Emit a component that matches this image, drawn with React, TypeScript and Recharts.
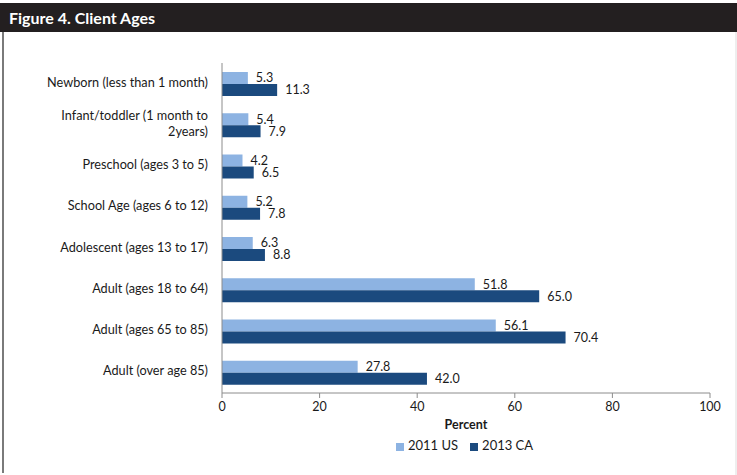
import { BarChart, Bar, XAxis, YAxis, Legend, LabelList } from 'recharts';

const categories = [
  'Newborn (less than 1 month)',
  'Infant/toddler (1 month to 2years)',
  'Preschool (ages 3 to 5)',
  'School Age (ages 6 to 12)',
  'Adolescent (ages 13 to 17)',
  'Adult (ages 18 to 64)',
  'Adult (ages 65 to 85)',
  'Adult (over age 85)',
];
const us2011 = [5.3, 5.4, 4.2, 5.2, 6.3, 51.8, 56.1, 27.8];
const ca2013 = [11.3, 7.9, 6.5, 7.8, 8.8, 65.0, 70.4, 42.0];
const xTicks = [0, 20, 40, 60, 80, 100];

const data = categories.map((name, i) => ({ name, us: us2011[i], ca: ca2013[i] }));

const FONT = 'Lato, "Liberation Sans", sans-serif';

// greedy word wrap by character count
const wrapLabel = (s: string, max: number) => {
  const lines: string[] = [];
  let cur = '';
  s.split(' ').forEach((w) => {
    const next = cur ? cur + ' ' + w : w;
    if (next.length > max && cur) {
      lines.push(cur);
      cur = w;
    } else {
      cur = next;
    }
  });
  if (cur) lines.push(cur);
  return lines;
};

const CategoryTick = (props: any) => {
  const { x, y, payload } = props;
  const lines = wrapLabel(payload.value, 28);
  const lh = 16;
  const start = -((lines.length - 1) * lh) / 2;
  const tx = x - 6;
  return (
    <text x={tx} y={y} textAnchor="end" fill="#1a1a1a" fontSize={12.7} fontFamily={FONT}>
      {lines.map((l, i) => (
        <tspan key={i} x={tx} dy={i === 0 ? start + 3 : lh}>
          {l}
        </tspan>
      ))}
    </text>
  );
};

export default function App() {
  return (
    <div style={{ position: 'absolute', left: 0, top: 0, width: 737, height: 475, background: '#fff', fontFamily: FONT }}>
      <div style={{ position: 'absolute', left: 0, top: 3, width: 737, height: 29, background: '#231f20' }}>
        <span style={{ position: 'absolute', left: 9, top: 5, color: '#fff', fontSize: 16, fontWeight: 700 }}>
          Figure 4. Client Ages
        </span>
      </div>
      <div style={{ position: 'absolute', left: 2, top: 32, width: 2, height: 441, background: '#7a7a7a' }} />
      <div style={{ position: 'absolute', left: 735, top: 32, width: 2, height: 443, background: '#eeeeee' }} />
      <div style={{ position: 'absolute', left: 0, top: 32 }}>
        <BarChart
          width={737}
          height={443}
          data={data}
          layout="vertical"
          margin={{ top: 31, right: 27, left: 0, bottom: 0 }}
          barSize={12}
          barGap={0}
        >
          <XAxis
            type="number"
            domain={[0, 100]}
            ticks={xTicks}
            height={44}
            stroke="#8c8c8c"
            tickSize={5}
            tickMargin={4}
            tick={{ fill: '#1a1a1a', fontSize: 12.5, fontFamily: FONT }}
            label={{ value: 'Percent', position: 'insideBottom', offset: 8, fill: '#1a1a1a', fontSize: 12.5, fontWeight: 700, fontFamily: FONT }}
          />
          <YAxis
            type="category"
            dataKey="name"
            width={222}
            stroke="#8c8c8c"
            tickLine={false}
            tick={<CategoryTick />}
            interval={0}
          />
          <Legend
            verticalAlign="bottom"
            align="left"
            height={38}
            iconType="square"
            iconSize={8}
            wrapperStyle={{ left: 396, width: 220, fontSize: 13, fontFamily: FONT, color: '#1a1a1a' }}
            formatter={(v: string) => <span style={{ color: '#1a1a1a', marginRight: 2 }}>{v}</span>}
          />
          <Bar dataKey="us" name="2011 US" fill="#8db3e2" isAnimationActive={false}>
            <LabelList dataKey="us" position="right" offset={8} formatter={(v: number) => v.toFixed(1)} style={{ fill: '#1a1a1a', fontSize: 12.5, fontFamily: FONT }} />
          </Bar>
          <Bar dataKey="ca" name="2013 CA" fill="#1b4a7e" isAnimationActive={false}>
            <LabelList dataKey="ca" position="right" offset={8} formatter={(v: number) => v.toFixed(1)} style={{ fill: '#1a1a1a', fontSize: 12.5, fontFamily: FONT }} />
          </Bar>
        </BarChart>
      </div>
    </div>
  );
}
